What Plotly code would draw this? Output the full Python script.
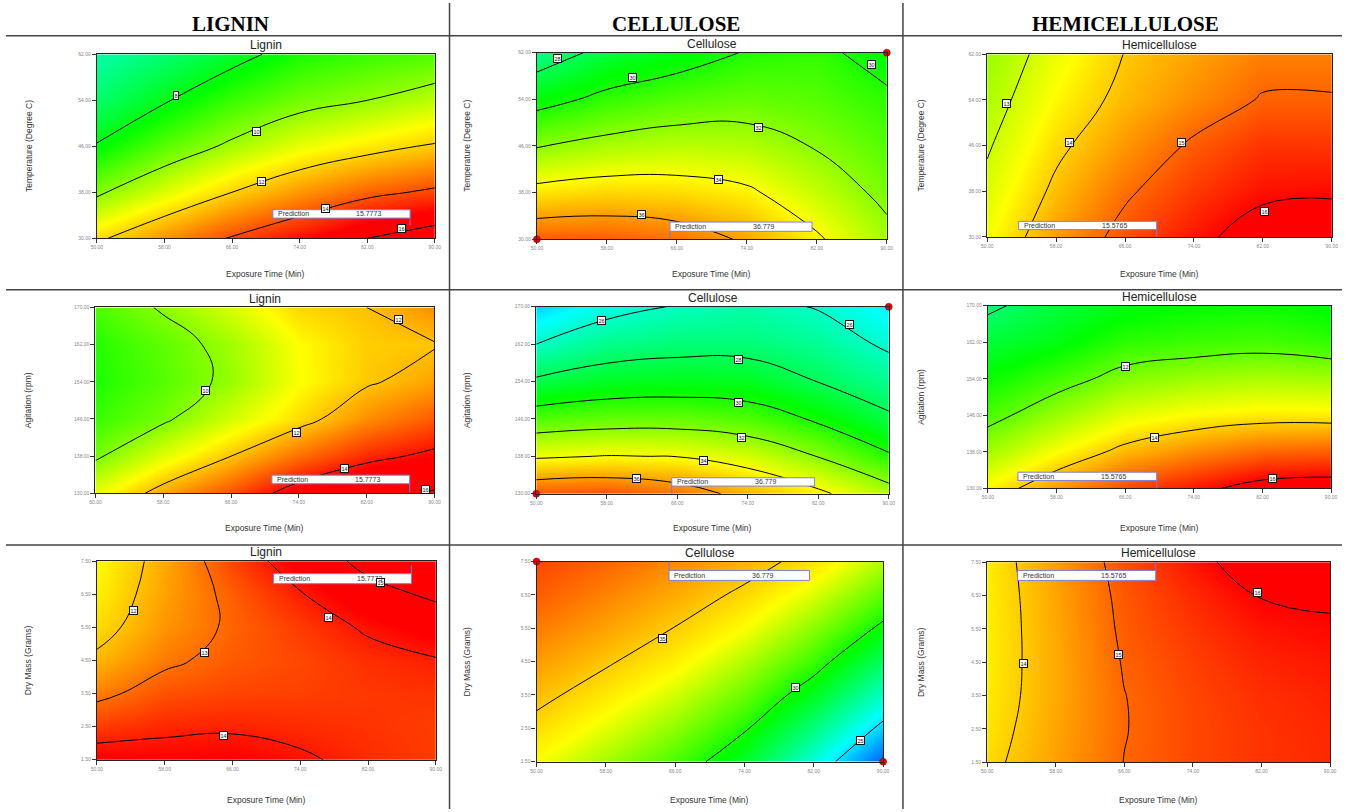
import plotly.graph_objects as go

W, H = 1348, 812

# ---------------- data ----------------
exposure_time = [50, 58, 66, 74, 82, 90]
temperature = [30, 38, 46, 54, 62]
agitation = [130, 138, 146, 154, 162, 170]
dry_mass = [1.5, 2.5, 3.5, 4.5, 5.5, 6.5, 7.5]

# response surfaces (rows follow the y values, columns follow exposure_time)
lignin_temp = [
    [11.8, 13.0, 14.1, 15.0, 16.0, 16.7],
    [9.8, 10.9, 12.0, 12.9, 13.7, 14.2],
    [8.1, 9.3, 10.2, 11.05, 11.6, 12.1],
    [6.7, 7.9, 8.9, 9.6, 10.0, 10.5],
    [5.8, 6.6, 7.6, 8.5, 8.9, 9.15],
]
cellulose_temp = [
    [37.2, 37.2, 36.8, 35.8, 34.2, 32.45],
    [34.5, 34.8, 34.7, 34.25, 33.0, 31.6],
    [31.9, 32.5, 32.8, 32.66, 31.9, 30.97],
    [29.4, 30.4, 31.0, 31.3, 31.0, 30.3],
    [27.0, 28.5, 29.2, 30.1, 30.4, 29.3],
]
hemi_temp = [
    [13.43, 14.46, 15.22, 15.8, 16.36, 16.5],
    [13.17, 14.14, 14.9, 15.45, 15.85, 15.9],
    [12.93, 13.85, 14.52, 15.1, 15.5, 15.48],
    [12.7, 13.56, 14.19, 14.64, 15.05, 15.05],
    [12.5, 13.32, 14.02, 14.4, 14.75, 14.75],
]
lignin_agit = [
    [11.1, 12.33, 13.3, 14.45, 15.1, 16.2],
    [9.85, 11.0, 12.0, 12.95, 13.75, 14.2],
    [9.2, 9.85, 10.86, 11.7, 12.6, 13.2],
    [8.9, 9.5, 10.2, 11.25, 11.9, 12.35],
    [9.0, 9.6, 10.3, 11.3, 11.85, 11.95],
    [9.4, 10.1, 10.9, 11.75, 12.0, 12.6],
]
cellulose_agit = [
    [37.3, 37.45, 36.8, 35.5, 34.3, 32.7],
    [33.8, 34.05, 33.96, 33.3, 31.95, 30.2],
    [30.9, 31.24, 31.27, 30.87, 29.77, 28.28],
    [28.26, 28.9, 29.08, 28.98, 27.97, 26.95],
    [26.0, 27.05, 27.4, 27.4, 26.9, 25.73],
    [24.2, 25.46, 26.1, 26.5, 25.9, 24.7],
]
hemi_agit = [
    [13.6, 14.5, 15.3, 15.8, 16.3, 16.4],
    [12.6, 13.48, 14.2, 14.65, 15.0, 15.1],
    [11.72, 12.53, 13.26, 13.56, 13.72, 13.7],
    [11.08, 11.65, 12.3, 12.56, 12.7, 12.6],
    [10.46, 10.85, 11.46, 11.6, 11.7, 11.5],
    [9.85, 10.4, 10.8, 11.0, 11.1, 10.9],
]
lignin_mass = [
    [14.4, 14.3, 14.35, 14.1, 13.8, 13.6],
    [13.59, 13.85, 13.9, 13.8, 13.7, 13.6],
    [12.8, 13.35, 13.5, 13.55, 13.65, 13.7],
    [12.15, 12.85, 13.25, 13.45, 13.75, 13.95],
    [11.7, 12.55, 13.12, 13.6, 14.1, 14.5],
    [11.45, 12.4, 13.2, 13.95, 14.7, 15.15],
    [11.3, 12.3, 13.5, 14.45, 15.25, 15.8],
]
cellulose_mass = [
    [33.55, 32.2, 30.8, 29.0, 26.1, 22.6],
    [34.5, 33.2, 31.85, 30.15, 27.65, 24.6],
    [35.45, 34.2, 32.9, 31.3, 29.2, 26.45],
    [36.4, 35.2, 33.95, 32.4, 30.6, 28.1],
    [37.3, 36.2, 34.95, 33.55, 31.8, 29.7],
    [38.2, 37.1, 35.95, 34.65, 33.05, 31.1],
    [38.8, 38.0, 36.9, 35.75, 34.35, 32.4],
]
hemi_mass = [
    [13.84, 14.44, 15.01, 15.3, 15.5, 15.6],
    [13.75, 14.38, 14.98, 15.3, 15.5, 15.62],
    [13.68, 14.34, 14.99, 15.32, 15.55, 15.68],
    [13.65, 14.34, 15.04, 15.38, 15.65, 15.78],
    [13.64, 14.36, 15.1, 15.48, 15.8, 15.93],
    [13.65, 14.39, 15.15, 15.6, 16.03, 16.08],
    [13.67, 14.45, 15.23, 15.81, 16.35, 16.4],
]

prediction_values = ["15.7773", "36.779", "15.5765"]  # Lignin, Cellulose, Hemicellulose

# design points shown as red dots on the cellulose plots
cellulose_pts_time = [50, 90]
cellulose_pts_temp = [30, 62]
cellulose_pts_agit = [130, 170]
cellulose_pts_mass = [7.5, 1.5]

column_headers = ["LIGNIN", "CELLULOSE", "HEMICELLULOSE"]
panel_titles = ["Lignin", "Cellulose", "Hemicellulose"]
y_titles = ["Temperature (Degree C)", "Agitation (rpm)", "Dry Mass (Grams)"]
x_title = "Exposure Time (Min)"

# ---------------- styling / layout config ----------------
ramp_colors = ["#0000ff", "#00ffff", "#00ff00", "#ffff00", "#ff0000"]


def make_scale(anchors):
    lo, hi = anchors[0], anchors[-1]
    return [[(a - lo) / (hi - lo), c] for a, c in zip(anchors, ramp_colors)]


def xp(px):
    return px / W


def yp(py):
    return 1 - py / H


panels = [
    # row 1
    dict(z=lignin_temp, y=temperature, box=(91.7, 51.7, 432.7, 237), lv=(8, 16, 2),
         cs=(1, 4.6, 8.2, 11.3, 15.2), col=0, row=0,
         labels=[(59.4, 54.9, "8"), (68.9, 48.6, "10"), (69.5, 39.8, "12"), (77, 35.2, "14"), (86, 31.7, "16")],
         pbox=(269.3, 208.3, 407.7, 216.7), flag=(407.7, 216.7, 224.3)),
    dict(z=cellulose_temp, y=temperature, box=(535.7, 50, 888.7, 238), lv=(28, 36, 2),
         cs=(20.5, 25, 29.5, 34, 39), col=1, row=0,
         labels=[(52.4, 61, "28"), (60.9, 57.7, "30"), (88.3, 60.0, "30"), (75.3, 49.2, "32"),
                 (70.8, 40.2, "34"), (61.9, 34.2, "36")],
         pbox=(670, 220.7, 813.3, 230), flag=(670, 230, 238), pts=cellulose_pts_temp),
    dict(z=hemi_temp, y=temperature, box=(990, 51.7, 1337.7, 235.7), lv=(13, 16, 1),
         cs=(6, 8.5, 11, 13.5, 16), col=2, row=0,
         labels=[(52.3, 53.4, "13"), (59.5, 46.5, "14"), (72.6, 46.5, "15"), (82.2, 34.5, "16")],
         pbox=(1021.7, 220, 1161, 228.3), flag=(1161, 228.3, 235.7)),
    # row 2
    dict(z=lignin_agit, y=agitation, box=(90.3, 306.7, 432.3, 494), lv=(10, 16, 2),
         cs=(3.2, 5.9, 8.6, 11.3, 14.2), col=0, row=1,
         labels=[(63, 152.2, "10"), (73.7, 143.1, "12"), (85.8, 167.5, "12"), (79.4, 135.3, "14"),
                 (88.9, 130.9, "16")],
         pbox=(268.3, 475.7, 407.3, 484.3), flag=(407.3, 484.3, 492.7)),
    dict(z=cellulose_agit, y=agitation, box=(535, 306, 890.7, 494.3), lv=(26, 36, 2),
         cs=(20.5, 25, 29.5, 34, 39), col=1, row=1,
         labels=[(57.4, 167, "26"), (85.6, 166.1, "26"), (73, 158.7, "28"), (73, 149.5, "30"),
                 (73.3, 142, "32"), (69, 137.1, "34"), (61.4, 133.2, "36")],
         pbox=(671.7, 478.3, 815.7, 486.7), flag=(671.7, 486.7, 494.3), pts=cellulose_pts_agit),
    dict(z=hemi_agit, y=agitation, box=(990.7, 305, 1337, 489), lv=(10, 16, 2),
         cs=(6, 8.5, 11, 13.5, 16), col=2, row=1,
         labels=[(66, 156.6, "12"), (69.4, 141.2, "14"), (83.2, 132.2, "16")],
         pbox=(1021, 472.7, 1161, 481), flag=(1161, 481, 489)),
    # row 3
    dict(z=lignin_mass, y=dry_mass, box=(91.7, 562.3, 433.7, 762.3), lv=(12, 15, 1),
         cs=(2.3, 5.3, 8.3, 11.3, 14.3), col=0, row=2,
         labels=[(54.3, 6.02, "12"), (62.7, 4.74, "13"), (77.3, 5.8, "14"), (83.5, 6.84, "15"),
                 (65, 2.24, "14")],
         pbox=(270, 575, 409, 585), flag=(409, 575, 566.7)),
    dict(z=cellulose_mass, y=dry_mass, box=(535.3, 562.7, 885, 764.3), lv=(25, 35, 5),
         cs=(21.0, 25.5, 29.7, 33.6, 40.8), col=1, row=2,
         labels=[(64.5, 5.18, "35"), (79.9, 3.73, "30"), (87.4, 2.13, "25")],
         pbox=(669, 571.7, 810.7, 581.7), flag=(669, 571.7, 562.7), pts=cellulose_pts_mass),
    dict(z=hemi_mass, y=dry_mass, box=(990, 563.3, 1336, 765), lv=(14, 16, 1),
         cs=(6, 8.5, 11, 13.5, 16), col=2, row=2,
         labels=[(54.2, 4.45, "14"), (65.3, 4.72, "15"), (81.5, 6.58, "16")],
         pbox=(1020.7, 571.7, 1160, 581.7), flag=(1160, 571.7, 563.3)),
]

row_xtitle_y = [273, 529, 803]
col_ytitle_x = [23, 465, 923]
header_x = [227, 676, 1130]

fig = go.Figure()
layout = dict(width=W, height=H, margin=dict(l=0, r=0, t=0, b=0), autosize=False,
              paper_bgcolor="white", plot_bgcolor="white", showlegend=False)
annotations = []
shapes = []

font_sans = "Liberation Sans, Arial, sans-serif"

for i, p in enumerate(panels, start=1):
    xa = "x" if i == 1 else f"x{i}"
    ya = "y" if i == 1 else f"y{i}"
    x0, y0, x1, y1 = p["box"]
    yvals = p["y"]
    fig.add_trace(go.Contour(
        x=exposure_time, y=yvals, z=p["z"], xaxis=xa, yaxis=ya,
        colorscale=make_scale(p["cs"]), zauto=False, zmin=p["cs"][0], zmax=p["cs"][-1],
        showscale=False, hoverinfo="skip",
        contours=dict(start=p["lv"][0], end=p["lv"][1], size=p["lv"][2],
                      coloring="heatmap", showlines=True),
        line=dict(color="black", width=1, smoothing=1.3),
    ))
    if "pts" in p:
        fig.add_trace(go.Scatter(
            x=cellulose_pts_time, y=p["pts"], xaxis=xa, yaxis=ya, mode="markers",
            marker=dict(color="#ee0000", size=7, line=dict(color="#990000", width=0.5)),
            cliponaxis=False, hoverinfo="skip"))
    axis_common = dict(showgrid=False, zeroline=False, showline=True, mirror=True,
                       linecolor="#222", linewidth=1.2, ticks="outside", ticklen=4,
                       tickcolor="#333", tickwidth=1,
                       tickfont=dict(size=5, color="#888", family=font_sans), fixedrange=True)
    layout["xaxis" if i == 1 else f"xaxis{i}"] = dict(
        domain=[xp(x0), xp(x1)], range=[50, 90], anchor=ya,
        tickvals=exposure_time, ticktext=["%.2f" % v for v in exposure_time], **axis_common)
    layout["yaxis" if i == 1 else f"yaxis{i}"] = dict(
        domain=[yp(y1), yp(y0)], range=[yvals[0], yvals[-1]], anchor=xa,
        tickvals=yvals, ticktext=["%.2f" % v for v in yvals], **axis_common)

    # panel title
    annotations.append(dict(text=panel_titles[p["col"]], x=xp((x0 + x1) / 2), y=yp(y0 - 9),
                            xref="paper", yref="paper", showarrow=False, xanchor="center",
                            yanchor="middle", font=dict(size=12, color="#222", family=font_sans)))
    # x-axis title
    annotations.append(dict(text=x_title, x=xp((x0 + x1) / 2), y=yp(row_xtitle_y[p["row"]]),
                            xref="paper", yref="paper", showarrow=False, xanchor="center",
                            yanchor="middle", font=dict(size=8.5, color="#333", family=font_sans)))
    # y-axis title
    annotations.append(dict(text=y_titles[p["row"]], x=xp(col_ytitle_x[p["col"]]), y=yp((y0 + y1) / 2),
                            xref="paper", yref="paper", showarrow=False, textangle=-90,
                            xanchor="center", yanchor="middle",
                            font=dict(size=8.5, color="#333", family=font_sans)))
    # contour labels
    for lx, ly, txt in p["labels"]:
        annotations.append(dict(text=txt, x=lx, y=ly, xref=xa, yref=ya, showarrow=False,
                                font=dict(size=5.5, color="#111", family=font_sans),
                                bgcolor="white", bordercolor="#111", borderwidth=1, borderpad=0.5))
    # prediction box
    bx0, by0, bx1, by1 = p["pbox"]
    fx, fy0, fy1 = p["flag"]
    shapes.append(dict(type="line", xref="paper", yref="paper", x0=xp(fx), x1=xp(fx),
                       y0=yp(fy0), y1=yp(fy1), line=dict(color="#7777dd", width=1)))
    shapes.append(dict(type="rect", xref="paper", yref="paper", x0=xp(bx0), x1=xp(bx1),
                       y0=yp(by1), y1=yp(by0), fillcolor="white",
                       line=dict(color="#7f7fdd", width=1)))
    annotations.append(dict(text="Prediction", x=xp(bx0 + 3), y=yp((by0 + by1) / 2), xref="paper",
                            yref="paper", showarrow=False, xanchor="left", yanchor="middle",
                            font=dict(size=7, color="#333", family=font_sans)))
    annotations.append(dict(text=prediction_values[p["col"]], x=xp(bx0 + 82), y=yp((by0 + by1) / 2),
                            xref="paper", yref="paper", showarrow=False, xanchor="left",
                            yanchor="middle", font=dict(size=7, color="#333", family=font_sans)))

# column headers
for cx, txt in zip(header_x, column_headers):
    annotations.append(dict(text="<b>%s</b>" % txt, x=xp(cx), y=yp(21), xref="paper", yref="paper",
                            showarrow=False, xanchor="center", yanchor="middle",
                            font=dict(size=21, color="black", family="Liberation Serif, Times New Roman, serif")))

# separator lines
for hy in [33, 289, 546]:
    shapes.append(dict(type="line", xref="paper", yref="paper", x0=0, x1=1, y0=yp(hy), y1=yp(hy),
                       line=dict(color="#444", width=1.5)))
for vx in [447.5, 905]:
    shapes.append(dict(type="line", xref="paper", yref="paper", x0=xp(vx), x1=xp(vx), y0=0, y1=1,
                       line=dict(color="#444", width=1.5)))

layout["annotations"] = annotations
layout["shapes"] = shapes
fig.update_layout(**layout)
fig.write_html("out.html")
